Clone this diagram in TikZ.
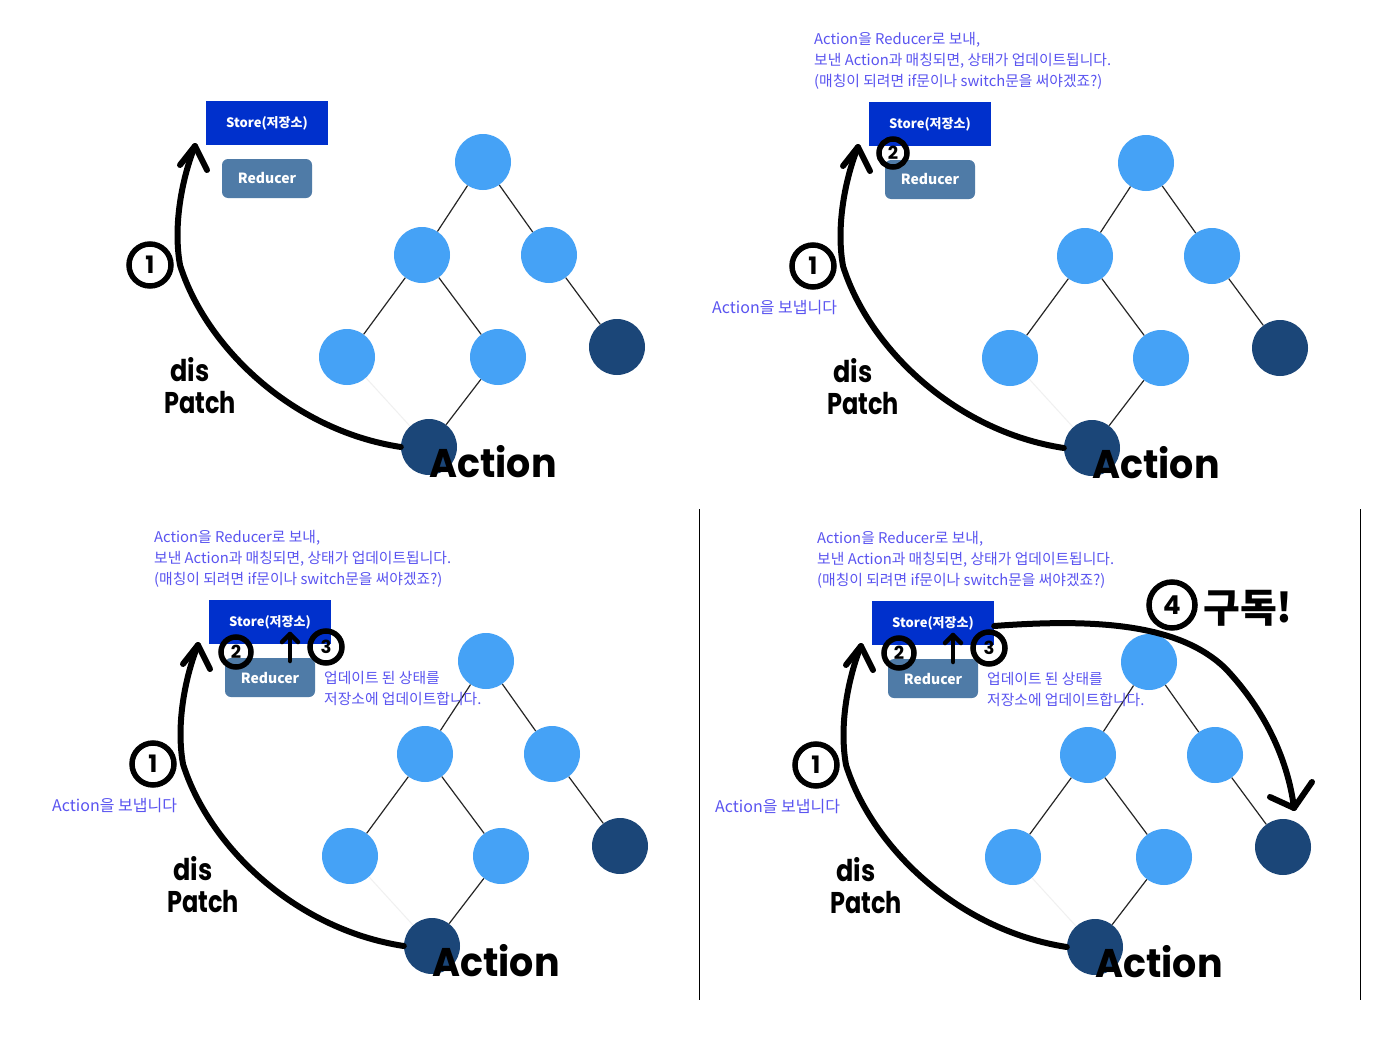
\documentclass[tikz,border=0pt]{standalone}
\usepackage{fontspec}
\usepackage{graphicx}
\setmainfont{Liberation Sans}
\newfontfamily\kr{Noto Sans CJK KR}
\newfontfamily\hand{Poppins}
\definecolor{lightb}{RGB}{69,162,246}
\definecolor{darkb}{RGB}{27,70,120}
\definecolor{storec}{RGB}{0,48,204}
\definecolor{reducc}{RGB}{79,123,167}
\definecolor{notec}{RGB}{90,84,240}
\tikzset{
 lnode/.style={circle, fill=lightb, minimum size=56pt, inner sep=0},
 dnode/.style={circle, fill=darkb, minimum size=56pt, inner sep=0},
 edge/.style={line width=1.2pt, black!85},
 storebox/.style={fill=storec, minimum width=122pt, minimum height=44pt, inner sep=0, text=white, font=\kr\bfseries\fontsize{13}{15}\selectfont},
 reducerbox/.style={fill=reducc, rounded corners=6pt, minimum width=90pt, minimum height=39pt, inner sep=0, text=white, font=\kr\bfseries\fontsize{14}{16}\selectfont},
 note/.style={text=notec, font=\kr\fontsize{14.8}{16}\selectfont, anchor=west, inner sep=0},
 pen/.style={line width=6pt, line cap=round, line join=round},
 hcircle/.style={circle, draw, line width=5.5pt, inner sep=0, minimum size=#1},
 hcircle/.default=40pt,
 handtext/.style={inner sep=0, font=\hand\bfseries\fontsize{#1}{#1}\selectfont},
 handtext/.default=30,
}
\newcommand\panelbase[3]{%
 \begin{scope}[shift={(#2,#3)}]
 \node[storebox] (#1store) at (267,123) {Store(저장소)};
 \node[reducerbox] (#1red) at (267,178.5) {Reducer};
 \node[lnode] (#1t) at (483,162) {};
 \node[lnode] (#1ml) at (422,255) {};
 \node[lnode] (#1mr) at (549,255) {};
 \node[lnode] (#1bl) at (347,357) {};
 \node[lnode] (#1bm) at (498,357) {};
 \node[dnode] (#1dr) at (617,347) {};
 \node[dnode] (#1act) at (429,447) {};
 \draw[edge] (#1t) -- (#1ml);
 \draw[edge] (#1t) -- (#1mr);
 \draw[edge] (#1ml) -- (#1bl);
 \draw[edge] (#1ml) -- (#1bm);
 \draw[edge] (#1mr) -- (#1dr);
 \draw[edge] (#1bm) -- (#1act);
 \draw[black!6, line width=1pt] (#1bl) -- (#1act);
 \coordinate (#1tip) at (195,146);
 \draw[pen] (#1act.west) .. controls (290,430) and (205,345) .. (180,265)
   .. controls (172,220) and (185,170) .. (#1tip);
 \draw[pen] (180,165) -- (#1tip) -- (207,170);
 \node[hcircle=42pt, font=\hand\bfseries\fontsize{24}{24}\selectfont] (#1one) at (150,265) {1};
 \node[handtext=30] (#1dis) at (190,370) {\scalebox{0.85}[1]{dis}};
 \node[handtext=30] (#1patch) at (200,403) {\scalebox{0.8}[1]{Patch}};
 \node[handtext=40] (#1acttxt) at (493,462) {\scalebox{0.95}[1]{Action}};
 \end{scope}}
\newcommand\notelines[1]{%
 \node[note] (#1n1) at (151,39) {Action을 Reducer로 보내,};
 \node[note] (#1n2) at (151,60) {보낸 Action과 매칭되면, 상태가 업데이트됩니다.};
 \node[note] (#1n3) at (151,81) {(매칭이 되려면 if문이나 switch문을 써야겠죠?)};
 \node[note, font=\kr\fontsize{16}{18}\selectfont] (#1send) at (49,307) {Action을 보냅니다};}
\newcommand\stepsthree[1]{%
 \node[hcircle=30pt, font=\hand\bfseries\fontsize{18}{18}\selectfont] (#1two) at (233,153) {2};
 \coordinate (#1up) at (287,135);
 \draw[line width=4.5pt, line cap=round, line join=round] (287,162) -- (#1up);
 \draw[line width=4.5pt, line cap=round, line join=round] (279,143) -- (#1up) -- (295,143);
 \node[hcircle=32pt, font=\hand\bfseries\fontsize{18}{18}\selectfont] (#1three) at (323,148) {3};
 \node[note] (#1u1) at (321,179) {업데이트 된 상태를};
 \node[note] (#1u2) at (321,200) {저장소에 업데이트합니다.};}
\begin{document}
\begin{tikzpicture}[x=1pt,y=-1pt]
\fill[white] (0,0) rectangle (1382,1052);
\useasboundingbox (0,0) rectangle (1382,1052);
% panel 1
\panelbase{a}{0}{0}
% panel 2
\panelbase{b}{663}{1}
\begin{scope}[shift={(663,1)}]
 \notelines{b}
 \node[hcircle=28pt, font=\hand\bfseries\fontsize{18}{18}\selectfont] (btwo) at (230,152) {2};
\end{scope}
% panel 3
\panelbase{c}{3}{499}
\begin{scope}[shift={(3,499)}]
 \notelines{c}
 \stepsthree{c}
\end{scope}
% panel 4
\panelbase{d}{666}{500}
\begin{scope}[shift={(666,500)}]
 \notelines{d}
 \stepsthree{d}
 \node[hcircle=46pt, font=\hand\bfseries\fontsize{26}{26}\selectfont] (dfour) at (506,105) {4};
 \node[inner sep=0, font=\kr\bfseries\fontsize{40}{40}\selectfont] (dsub) at (582,108) {구독!};
 \coordinate (dend) at (628,308);
 \draw[pen] ([yshift=-3pt]dstore.east) .. controls (434,118) and (514,125) .. (559,168)
   .. controls (599,210) and (622,260) .. (dend);
 \draw[pen] (604,297) -- (dend) -- (646,282);
\end{scope}
% dividers
\draw[line width=1.5pt] (699.5,509) -- (699.5,1000);
\draw[line width=1.5pt] (1360.5,509) -- (1360.5,1000);
\end{tikzpicture}
\end{document}
